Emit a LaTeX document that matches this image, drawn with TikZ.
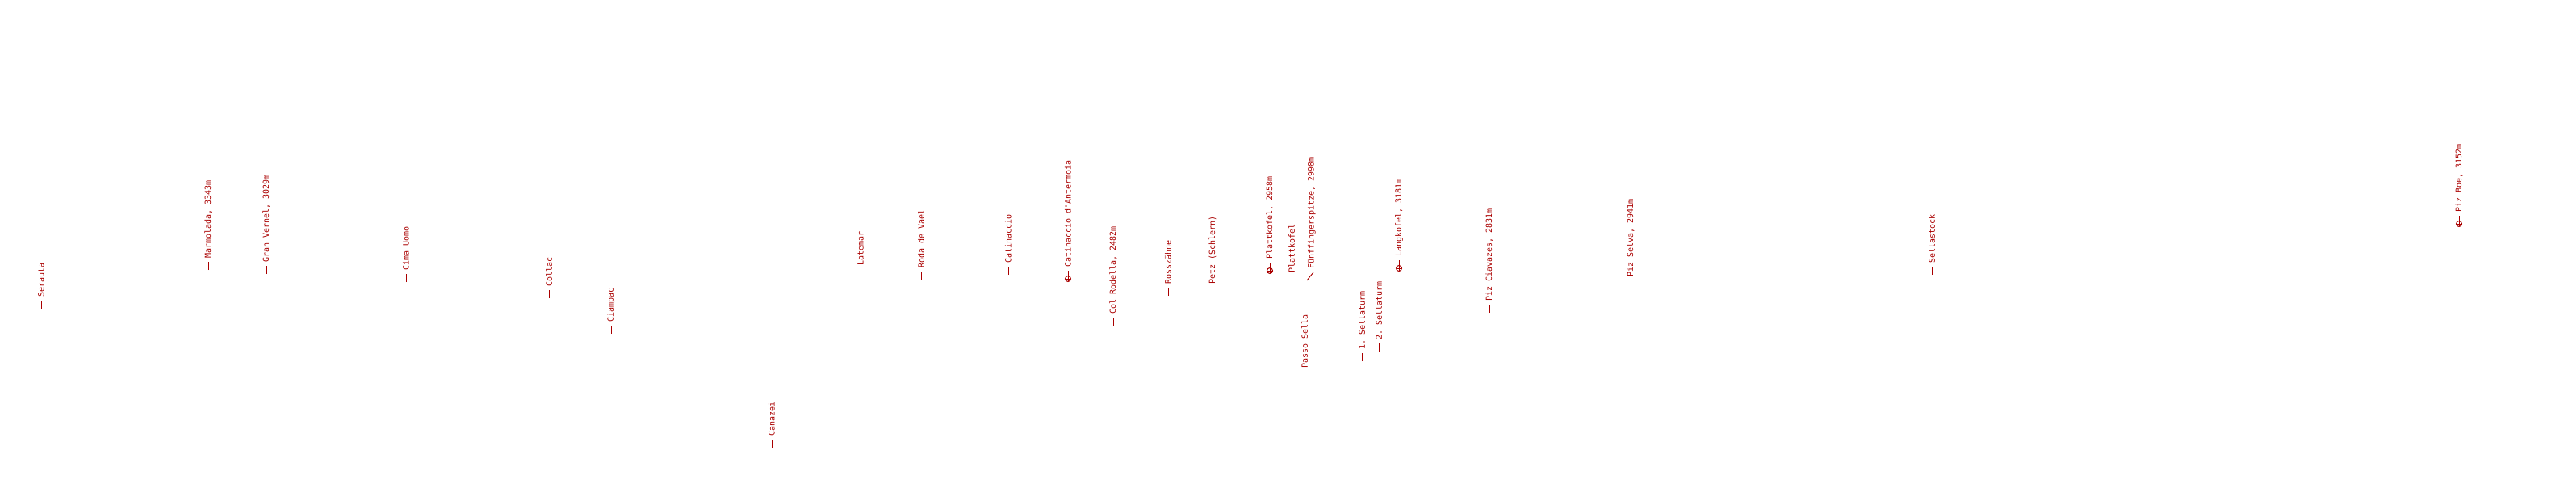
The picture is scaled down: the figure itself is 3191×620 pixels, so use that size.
\documentclass[tikz,border=0pt]{standalone}
\usepackage{fontspec}
\setmonofont{DejaVu Sans Mono}
\definecolor{lbl}{RGB}{170,0,0}
\newcommand\plainlabel[4]{%
  \coordinate (#1a) at (#2,#3);
  \node[lab] (#1) at (#2,#3-14) {#4};
  \draw[tick, shorten >=4pt] (#1a) -- (#1.west);}
\newcommand\peaklabel[4]{%
  \node[peak] (#1a) at (#2,#3) {};
  \node[lab] (#1) at (#2,#3-14) {#4};
  \draw[tick, shorten >=4pt] (#1a.center) -- (#1.west);}
\begin{document}
\begin{tikzpicture}[x=1pt,y=-1pt,
  tick/.style={draw=lbl, line width=0.9pt},
  lab/.style={rotate=90, anchor=west, inner sep=0pt, text=lbl,
    font=\ttfamily\fontsize{10}{12}\selectfont},
  peak/.style={circle, draw=lbl, line width=1pt, minimum size=7pt, inner sep=0pt,
    path picture={\draw[lbl, line width=0.9pt]
      (path picture bounding box.north) -- (path picture bounding box.south)
      (path picture bounding box.west) -- (path picture bounding box.east);}}]
\fill[white] (0,0) rectangle (3191,620);
\useasboundingbox (0,0) rectangle (3191,620);
\plainlabel{serauta}{51}{382}{Serauta}
\plainlabel{marmolada}{258}{334}{Marmolada, 3343m}
\plainlabel{vernel}{330}{339}{Gran Vernel, 3029m}
\plainlabel{uomo}{503}{349}{Cima Uomo}
\plainlabel{collac}{680}{369}{Collac}
\plainlabel{ciampac}{757}{413}{Ciampac}
\plainlabel{canazei}{956}{554}{Canazei}
\plainlabel{latemar}{1066}{343}{Latemar}
\plainlabel{vael}{1141}{346}{Roda de Vael}
\plainlabel{catinaccio}{1249}{340}{Catinaccio}
\peaklabel{antermoia}{1323}{345}{Catinaccio d'Antermoia}
\plainlabel{rodella}{1379}{403}{Col Rodella, 2482m}
\plainlabel{rosszahne}{1447}{366}{Rosszähne}
\plainlabel{petz}{1502}{366}{Petz (Schlern)}
\peaklabel{plattkofelpeak}{1573}{335}{Plattkofel, 2958m}
\plainlabel{plattkofel}{1600}{352}{Plattkofel}
\coordinate (fuenfa) at (1619,347);
\coordinate (fuenfb) at (1627,337);
\node[lab] (fuenf) at (1625,333) {Fünffingerspitze, 2998m};
\draw[tick] (fuenfa) -- (fuenfb);
\plainlabel{passo}{1616}{470}{Passo Sella}
\plainlabel{sellaone}{1687}{447}{1. Sellaturm}
\plainlabel{sellatwo}{1708}{435}{2. Sellaturm}
\peaklabel{langkofel}{1733}{332}{Langkofel, 3181m}
\plainlabel{ciavazes}{1845}{387}{Piz Ciavazes, 2831m}
\plainlabel{selva}{2020}{357}{Piz Selva, 2941m}
\plainlabel{sellastock}{2393}{340}{Sellastock}
\peaklabel{boe}{3046}{277}{Piz Boe, 3152m}
\end{tikzpicture}
\end{document}
